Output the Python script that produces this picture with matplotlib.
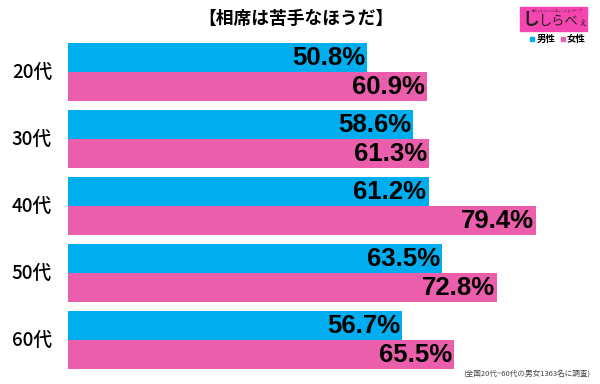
import numpy as np
import matplotlib
matplotlib.use("Agg")
import matplotlib.pyplot as plt
from matplotlib.patches import Rectangle

plt.rcParams['font.family'] = ['Noto Sans CJK JP', 'DejaVu Sans']

ages = ['20代', '30代', '40代', '50代', '60代']
male = [50.8, 58.6, 61.2, 63.5, 56.7]
female = [60.9, 61.3, 79.4, 72.8, 65.5]

W, H = 600, 384
BLUE = '#00aeef'
PINK = '#ea5eab'

fig = plt.figure(figsize=(W / 100, H / 100), dpi=100)

# axes placed in pixels so the bars land where they do in the picture
ax = fig.add_axes([68 / W, 1 - 373.5 / H, 532 / W, 335 / H])
y = np.arange(len(ages))
h = 0.433
ax.barh(y - h / 2, male, h, color=BLUE)
ax.barh(y + h / 2, female, h, color=PINK)
ax.set_xlim(0, 532 / 5.894)
ax.set_ylim(4.5, -0.5)
ax.axis('off')

for i in range(len(ages)):
    ax.text(male[i] - 0.4, i - h / 2 + 0.01, '%.1f%%' % male[i], ha='right', va='center',
            fontsize=18.5, fontweight='bold', family='Liberation Sans', color='black')
    ax.text(female[i] - 0.4, i + h / 2 + 0.01, '%.1f%%' % female[i], ha='right', va='center',
            fontsize=18.5, fontweight='bold', family='Liberation Sans', color='black')
    ax.text(-2.7, i, ages[i], ha='right', va='center', fontsize=13.5, fontweight='medium',
            color='black')

fig.text(296 / W, 1 - 19 / H, '【相席は苦手なほうだ】', ha='center', va='center',
         fontsize=12.8, fontweight='bold')

# logo
fig.add_artist(Rectangle((520 / W, 1 - 31 / H), 67 / W, 24 / H, color='#f545b0',
                         transform=fig.transFigure))
fig.text(557 / W, 1 - 10.5 / H, '暮らしをちょっと楽しくするメディア', fontsize=2.2, ha='center',
         va='center', color='#7a2a5a')
fig.text(522 / W, 1 - 20 / H, 'し', fontsize=12, fontweight='bold', va='center', color='#222222')
fig.text(539 / W, 1 - 21.5 / H, 'しらべ', fontsize=9.5, va='center', color='#222222')
fig.text(578 / W, 1 - 23 / H, 'ぇ', fontsize=6, va='center', color='#222222')

# legend
fig.add_artist(Rectangle((530 / W, 1 - 41 / H), 4 / W, 4 / H, color=BLUE,
                         transform=fig.transFigure))
fig.text(536.5 / W, 1 - 39 / H, '男性', fontsize=6.8, fontweight='bold', va='center')
fig.add_artist(Rectangle((561 / W, 1 - 41 / H), 4 / W, 4 / H, color=PINK,
                         transform=fig.transFigure))
fig.text(566.5 / W, 1 - 39 / H, '女性', fontsize=6.8, fontweight='bold', va='center')

fig.text(590 / W, 1 - 374 / H, '(全国20代~60代の男女1363名に調査)', ha='right', va='center',
         fontsize=5.5, color='#444444')

fig.savefig('out.png', dpi=100)
